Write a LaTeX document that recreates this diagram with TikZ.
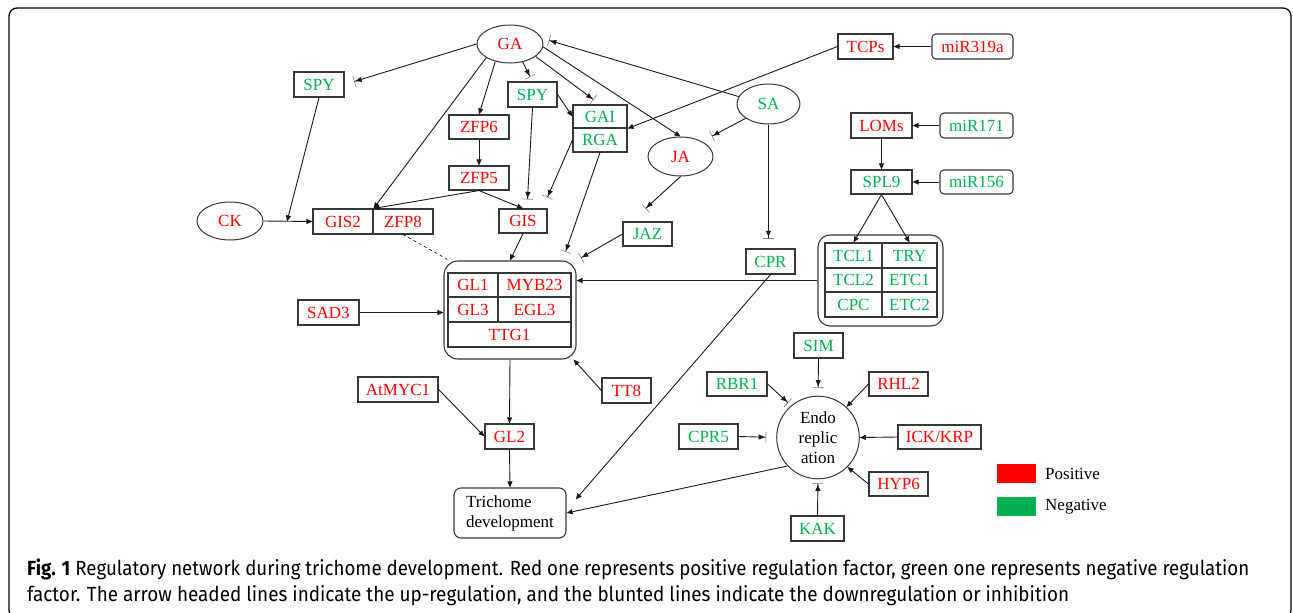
\documentclass[tikz,border=0pt]{standalone}
\usepackage{fontspec}
\usepackage{graphicx}
\setmainfont{Liberation Serif}
\newfontfamily\capfont{Fira Sans}
\usetikzlibrary{shapes.geometric,arrows.meta,calc}
\definecolor{pred}{RGB}{255,0,0}
\definecolor{ngreen}{RGB}{0,176,80}
\definecolor{bord}{RGB}{55,55,55}
\newcommand\gfont{\fontsize{17}{20}\selectfont}
\tikzset{
  bx/.style={draw=bord, line width=1.1pt, rectangle, inner sep=0pt, minimum height=25pt, font=\gfont},
  rbx/.style={bx, rounded corners=4pt},
  el/.style={draw=bord, line width=1pt, ellipse, inner sep=0pt, font=\gfont},
  rtxt/.style={text=pred},
  gtxt/.style={text=ngreen},
  act/.style={line width=0.9pt, draw=black!90, -{Triangle[length=6pt,width=5pt]}},
  inh/.style={line width=0.9pt, draw=black!90, -{Triangle[length=6pt,width=5pt,sep=1pt]Bar[width=11pt,line width=0.6pt,color=gray]}},
}
\begin{document}
\begin{tikzpicture}[x=1pt,y=-1pt]
\useasboundingbox (0,0) rectangle (1293,613);
\draw[line width=1.3pt, rounded corners=8pt] (9,8) rectangle (1291,618);

% ellipses
\node[el, rtxt, minimum width=66pt, minimum height=38pt] (ga) at (510,44) {GA};
\node[el, rtxt, minimum width=66pt, minimum height=38pt] (ck) at (230,221) {CK};
\node[el, gtxt, minimum width=63pt, minimum height=40pt] (sa) at (768.5,104) {SA};
\node[el, rtxt, minimum width=65pt, minimum height=39pt] (ja) at (680.5,156.5) {JA};

% boxes
\node[bx, gtxt, minimum width=50pt] (spyl) at (319,84.5) {SPY};
\node[bx, gtxt, minimum width=49pt] (spym) at (532.5,94.5) {SPY};
\node[bx, gtxt, minimum width=54pt, minimum height=23pt] (gai) at (600,116.5) {GAI};
\node[bx, gtxt, minimum width=54pt, minimum height=24pt] (rga) at (600,140) {RGA};
\node[bx, rtxt, minimum width=60pt, minimum height=24pt] (zfp6) at (479,127) {ZFP6};
\node[bx, rtxt, minimum width=60pt, minimum height=24pt] (zfp5) at (479,178) {ZFP5};
\node[bx, rtxt, minimum width=60pt] (gis2) at (343,221.5) {GIS2};
\node[bx, rtxt, minimum width=60pt] (zfp8) at (403,221.5) {ZFP8};
\node[bx, rtxt, minimum width=48pt, minimum height=24pt] (gis) at (523,221) {GIS};
\node[bx, rtxt, minimum width=55pt] (tcps) at (865.5,46.5) {TCPs};
\node[rbx, rtxt, minimum width=81pt] (mir319) at (972.5,46.5) {miR319a};
\node[bx, rtxt, minimum width=61pt] (loms) at (881.5,125.5) {LOMs};
\node[rbx, gtxt, minimum width=73pt] (mir171) at (976.5,125.5) {miR171};
\node[bx, gtxt, minimum width=61pt, minimum height=24pt] (spl9) at (881.5,182) {SPL9};
\node[rbx, gtxt, minimum width=73pt, minimum height=24pt] (mir156) at (976.5,182) {miR156};
\node[bx, gtxt, minimum width=49pt, minimum height=24pt] (jaz) at (647.5,234) {JAZ};
\node[bx, gtxt, minimum width=49pt] (cpr) at (770.5,261.5) {CPR};

% TCL group
\node[draw=bord, line width=1.1pt, rounded corners=12pt, minimum width=125pt, minimum height=91pt, inner sep=0pt] (tclgrp) at (880.5,280.5) {};
\node[bx, gtxt, minimum width=57pt] (tcl1) at (853.5,255.5) {TCL1};
\node[bx, gtxt, minimum width=55pt] (try) at (909.5,255.5) {TRY};
\node[bx, gtxt, minimum width=57pt, minimum height=24pt] (tcl2) at (853.5,280) {TCL2};
\node[bx, gtxt, minimum width=55pt, minimum height=24pt] (etc1) at (909.5,280) {ETC1};
\node[bx, gtxt, minimum width=57pt] (cpc) at (853.5,304.5) {CPC};
\node[bx, gtxt, minimum width=55pt] (etc2) at (909.5,304.5) {ETC2};

% GL group
\node[draw=bord, line width=1.1pt, rounded corners=14pt, minimum width=132pt, minimum height=98pt, inner sep=0pt] (glgrp) at (510,310) {};
\node[bx, rtxt, minimum width=50pt, minimum height=24pt] (gl1) at (473,285) {GL1};
\node[bx, rtxt, minimum width=73pt, minimum height=24pt] (myb23) at (534.5,285) {MYB23};
\node[bx, rtxt, minimum width=50pt] (gl3) at (473,309.5) {GL3};
\node[bx, rtxt, minimum width=73pt] (egl3) at (534.5,309.5) {EGL3};
\node[bx, rtxt, minimum width=123pt] (ttg1) at (509.5,334.5) {TTG1};

\node[bx, rtxt, minimum width=61pt] (sad3) at (328.5,312.5) {SAD3};
\node[bx, rtxt, minimum width=80pt] (atmyc1) at (398,389.5) {AtMYC1};
\node[bx, rtxt, minimum width=49pt] (tt8) at (626.5,390.5) {TT8};
\node[bx, rtxt, minimum width=49pt] (gl2) at (509.5,436.5) {GL2};
\node[draw=bord, line width=1.1pt, rounded corners=7pt, minimum width=112pt, minimum height=50pt, inner sep=0pt, align=left, font=\gfont] (trich) at (510,513) {Trichome\\development};

% Endoreplication
\node[draw=bord, line width=1pt, circle, minimum size=82.6pt, inner sep=0pt, align=center, font=\gfont] (endo) at (818,437.5) {Endo\\replic\\ation};
\node[bx, gtxt, minimum width=49pt] (sim) at (818.5,345.5) {SIM};
\node[bx, gtxt, minimum width=60pt, minimum height=24pt] (rbr1) at (737,384) {RBR1};
\node[bx, rtxt, minimum width=59pt, minimum height=24pt] (rhl2) at (898.5,384) {RHL2};
\node[bx, gtxt, minimum width=59pt] (cpr5) at (708.5,436.5) {CPR5};
\node[bx, rtxt, minimum width=83pt, minimum height=24pt] (ick) at (939.5,437) {ICK/KRP};
\node[bx, rtxt, minimum width=59pt, minimum height=24pt] (hyp6) at (898.5,484) {HYP6};
\node[bx, gtxt, minimum width=53pt] (kak) at (817.5,528.5) {KAK};

% legend
\fill[pred] (997,464) rectangle (1036,483);
\fill[ngreen] (997,497) rectangle (1036,516);
\node[anchor=west, inner sep=0pt, font=\gfont] (lpos) at (1045,474) {Positive};
\node[anchor=west, inner sep=0pt, font=\gfont] (lneg) at (1045,507) {Negative};

% connectors
\draw[inh, shorten >=10pt] (ga.west) -- (spyl.east);
\draw[inh, shorten >=5pt] (ga.-55) -- (spym.north);
\draw[inh, shorten >=8pt] (ga.-26) -- (gai.north);
\draw[act] (ga.-5) -- (ja.north);
\draw[act] (ga.-130) -- (zfp6.north);
\draw[act] (ga.-150) -- (gis2.north east);
\draw[inh, shorten >=7pt] (sa.166) -- (ga.10);
\draw[act] (tcps.west) -- (gai.south east);
\draw[act] (mir319.west) -- (tcps.east);
\draw[inh, shorten >=11pt] (sa.-148) -- (ja.35);
\draw[inh, shorten >=10pt] (sa.south) -- (sa.south |- cpr.north);
\coordinate (ckj) at (287,221.5);
\draw[act] (spyl.south) -- (ckj);
\draw[act] (ck.east) -- (gis2.west);
\draw[act] (zfp6.south) -- (zfp5.north);
\draw[act] (zfp5.south) -- (gis2.north east);
\draw[act] (zfp5.south) -- (gis.north);
\draw[inh, shorten >=9pt] (spym.south) -- ($(gis.north)+(4,0)$);
\draw[act] (spym.east) -- (gai.west);
\draw[inh, shorten >=12pt] (rga.west) -- ($(gis.north east)+(-5,0)$);
\draw[inh, shorten >=9pt] (rga.south) -- ($(glgrp.north east)+(-14,0)$);
\draw[inh, shorten >=19pt] (ja.south) -- ($(jaz.north west)+(9,0)$);
\draw[inh, shorten >=5pt] (jaz.west) -- (glgrp.north east);
\draw[act] (gis.south) -- (glgrp.north);
\draw[dashed, line width=0.6pt] (zfp8.south) -- ($(glgrp.north west)+(6,0)$);
\draw[act] (sad3.east) -- (sad3.east -| glgrp.west);
\draw[act] (tclgrp.west) -- (tclgrp.west -| glgrp.east);
\draw[act] (spl9.south) -- (tcl1.north);
\draw[act] (spl9.south) -- (try.north);
\draw[act] (loms.south) -- (spl9.north);
\draw[act] (mir171.west) -- (loms.east);
\draw[act] (mir156.west) -- (spl9.east);
\draw[act] (glgrp.south) -- (gl2.north);
\draw[act] (tt8.west) -- ($(glgrp.south east)+(-3,0)$);
\draw[act] (atmyc1.east) -- (gl2.west);
\draw[act] (gl2.south) -- (trich.north);
\draw[act, shorten >=14pt] (cpr.south) -- ($(trich.east)+(0,-3)$);
\draw[act] (endo.-137) -- (trich.east);
\draw[inh, shorten >=8pt] (sim.south) -- (endo.north);
\draw[inh, shorten >=4pt] (rbr1.east) -- (endo.130);
\draw[act] (rhl2.west) -- (endo.47);
\draw[inh, shorten >=10pt] (cpr5.east) -- (endo.west);
\draw[act] (ick.west) -- (endo.east);
\draw[act] (hyp6.west) -- (endo.-45);
\draw[inh, shorten >=4pt] (kak.north) -- (endo.south);

% caption
\node[anchor=base west, inner sep=0pt] (cap1) at (27,575) {\resizebox{1222pt}{\height}{\capfont\fontsize{20.5}{24}\selectfont\textbf{Fig. 1} Regulatory network during trichome development. Red one represents positive regulation factor, green one represents negative regulation}};
\node[anchor=base west, inner sep=0pt] (cap2) at (27,601) {\resizebox{1042pt}{\height}{\capfont\fontsize{20.5}{24}\selectfont factor. The arrow headed lines indicate the up-regulation, and the blunted lines indicate the downregulation or inhibition}};
\end{tikzpicture}
\end{document}
